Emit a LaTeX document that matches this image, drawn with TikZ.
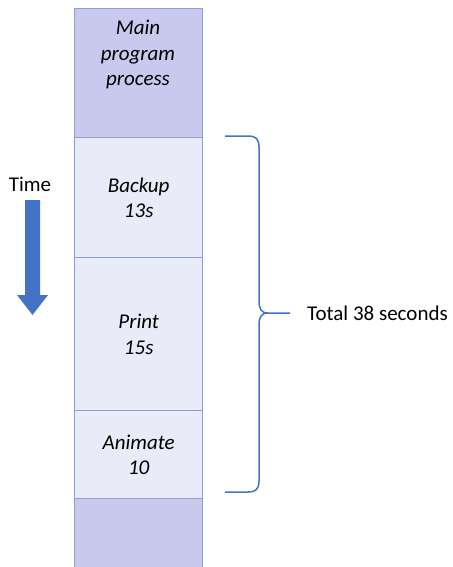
\documentclass[tikz,border=0pt]{standalone}
\usepackage{fontspec}
\setmainfont{Carlito}
\definecolor{darkfill}{RGB}{200,201,237}
\definecolor{lightfill}{RGB}{233,235,248}
\definecolor{edge}{RGB}{140,158,214}
\definecolor{accent}{RGB}{68,114,196}
\begin{document}
\begin{tikzpicture}[x=1pt,y=-1pt,
  slot/.style={draw=edge,line width=1.4pt,minimum width=128pt,anchor=north west,inner sep=0pt,
    font=\fontsize{21}{25.5}\selectfont\itshape,align=center,text=black},
  lbl/.style={font=\fontsize{21}{24}\selectfont,text=black,inner sep=0pt}]
\useasboundingbox (0,0) rectangle (452,567);
\clip (0,0) rectangle (452,567);
\node[slot,fill=darkfill,minimum height=129pt] (main) at (74,8) {};
\node[font=\fontsize{21}{25.5}\selectfont\itshape,align=center,text=black,anchor=north,inner sep=0pt] (maintxt) at (138,20) {Main\\program\\process};
\node[slot,fill=lightfill,minimum height=120pt] (backup) at (74,137) {Backup\\13s};
\node[slot,fill=lightfill,minimum height=153pt] (print) at (74,257) {Print\\15s};
\node[slot,fill=lightfill,minimum height=88pt] (animate) at (74,410) {Animate\\10};
\node[slot,fill=darkfill,minimum height=80pt] (rest) at (74,498) {};
% time arrow
\node[lbl] (time) at (30,184) {Time};
\fill[accent] (25,200) coordinate (ta) -- (40,200) -- (40,295) -- (48,295) -- (32.5,315) coordinate (tb) -- (17,295) -- (25,295) -- cycle;
% brace
\coordinate (bt) at (225,136);
\coordinate (bb) at (225,492);
\coordinate (tip) at (290,313);
\draw[accent,line width=1.5pt,line join=round]
  (bt) -- (248,136) .. controls (256,136) and (259,139) .. (259,147)
  -- (259,300) .. controls (259,309) and (261,313) .. (268,313) -- (tip);
\draw[accent,line width=1.5pt,line join=round]
  (268,313) .. controls (261,313) and (259,317) .. (259,326)
  -- (259,481) .. controls (259,489) and (256,492) .. (248,492) -- (bb);
\node[lbl,anchor=west] (total) at (307,313) {Total 38 seconds};
\end{tikzpicture}
\end{document}
